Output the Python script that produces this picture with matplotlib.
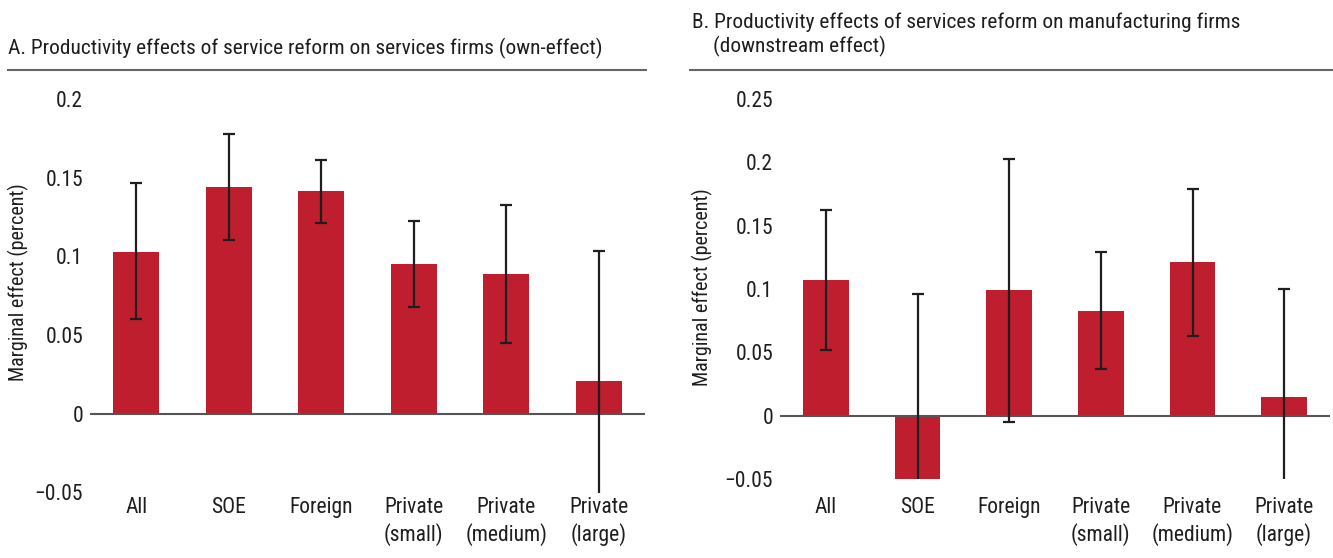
import matplotlib
matplotlib.use("Agg")
import matplotlib.pyplot as plt
from matplotlib import font_manager as fm
from matplotlib.lines import Line2D
import numpy as np

categories = ["All", "SOE", "Foreign", "Private\n(small)", "Private\n(medium)", "Private\n(large)"]

# Panel A: own-effect on services firms
own_effect = [0.103, 0.144, 0.1415, 0.095, 0.089, 0.021]
own_lo = [0.060, 0.1105, 0.1215, 0.068, 0.045, -0.062]
own_hi = [0.1466, 0.178, 0.161, 0.1224, 0.1328, 0.1036]

# Panel B: downstream effect on manufacturing firms
down_effect = [0.107, -0.05, 0.0994, 0.0828, 0.1215, 0.015]
down_lo = [0.052, -0.196, -0.005, 0.037, 0.063, -0.07]
down_hi = [0.1625, 0.096, 0.203, 0.129, 0.179, 0.100]

RED = "#BE1E2D"
INK = "#1e1e1e"
W, H = 1333, 558


def pick_font():
    # prefer a narrow face, the reference uses a condensed sans
    fonts = fm.fontManager.ttflist
    names = {f.name for f in fonts}
    for name in ["Liberation Sans Narrow", "Roboto Condensed", "Open Sans Condensed"]:
        if name in names:
            return name, "normal"
    for name in ["Noto Sans", "Open Sans", "DejaVu Sans", "Roboto"]:
        for f in fonts:
            if f.name == name and f.stretch in ("condensed", "semi-condensed", 300):
                return name, "condensed"
    return "Roboto", "normal"


FAMILY, STRETCH = pick_font()
plt.rcParams["font.family"] = [FAMILY, "DejaVu Sans"]
plt.rcParams["font.stretch"] = STRETCH


def draw_panel(ax, vals, lo, hi, ylim, yticks, ylabels, label_x, label_y, xpad):
    x = np.arange(len(categories))
    vals = np.array(vals)
    yerr = [vals - np.array(lo), np.array(hi) - vals]
    ax.bar(x, vals, width=0.5, color=RED, zorder=2)
    ax.axhline(0, color="#555555", lw=1.5, zorder=3)
    ax.errorbar(x, vals, yerr=yerr, fmt="none", ecolor=INK,
                elinewidth=1.6, capsize=4, capthick=1.6, zorder=4)
    ax.set_xlim(-0.5, 5.5)
    ax.set_ylim(*ylim)
    ax.set_yticks(yticks)
    ax.set_yticklabels(ylabels)
    ax.set_xticks(x)
    ax.set_xticklabels(categories, linespacing=1.25)
    ax.tick_params(axis="both", length=0, labelsize=15.5, colors=INK)
    ax.tick_params(axis="y", pad=5)
    ax.tick_params(axis="x", pad=xpad)
    for s in ax.spines.values():
        s.set_visible(False)
    ylab = ax.set_ylabel("Marginal effect (percent)", fontsize=14.5, color=INK)
    ylab.set_va("center")
    ax.yaxis.set_label_coords(label_x, label_y)


fig = plt.figure(figsize=(W / 100, H / 100), dpi=100)

# axes boxes in pixel terms -> figure fractions
axA = fig.add_axes([90 / W, (H - 492.5) / H, 555 / W, 393.5 / H])
axB = fig.add_axes([780 / W, (H - 479) / H, 550 / W, 380 / H])

draw_panel(axA, own_effect, own_lo, own_hi, (-0.05, 0.2),
           [-0.05, 0, 0.05, 0.1, 0.15, 0.2],
           ["\u22120.05", "0", "0.05", "0.1", "0.15", "0.2"], -72 / 555, 0.535, 3.5)
draw_panel(axB, down_effect, down_lo, down_hi, (-0.05, 0.25),
           [-0.05, 0, 0.05, 0.1, 0.15, 0.2, 0.25],
           ["\u22120.05", "0", "0.05", "0.1", "0.15", "0.2", "0.25"], -78 / 550, 0.505, 13)

# panel titles and rules
tA = fig.text(8 / W, 1 - 48 / H, "A. Productivity effects of service reform on services firms (own-effect)",
              fontsize=15, va="center", ha="left", color=INK)
tB1 = fig.text(692 / W, 1 - 22 / H, "B. Productivity effects of services reform on manufacturing firms",
               fontsize=15, va="center", ha="left", color=INK)
tB2 = fig.text(713 / W, 1 - 46 / H, "(downstream effect)",
               fontsize=15, va="center", ha="left", color=INK)

# scale the title size so panel A's title spans the same width as in the reference
renderer = fig.canvas.get_renderer()
wA = tA.get_window_extent(renderer).width
title_size = min(15 * 596 / wA, 16.5)
for t in (tA, tB1, tB2):
    t.set_fontsize(title_size)

fig.add_artist(Line2D([8 / W, 646 / W], [1 - 70 / H] * 2, color="#666666", lw=1.5))
fig.add_artist(Line2D([690 / W, 1333 / W], [1 - 70 / H] * 2, color="#666666", lw=1.5))

fig.savefig("out.png", dpi=100)
